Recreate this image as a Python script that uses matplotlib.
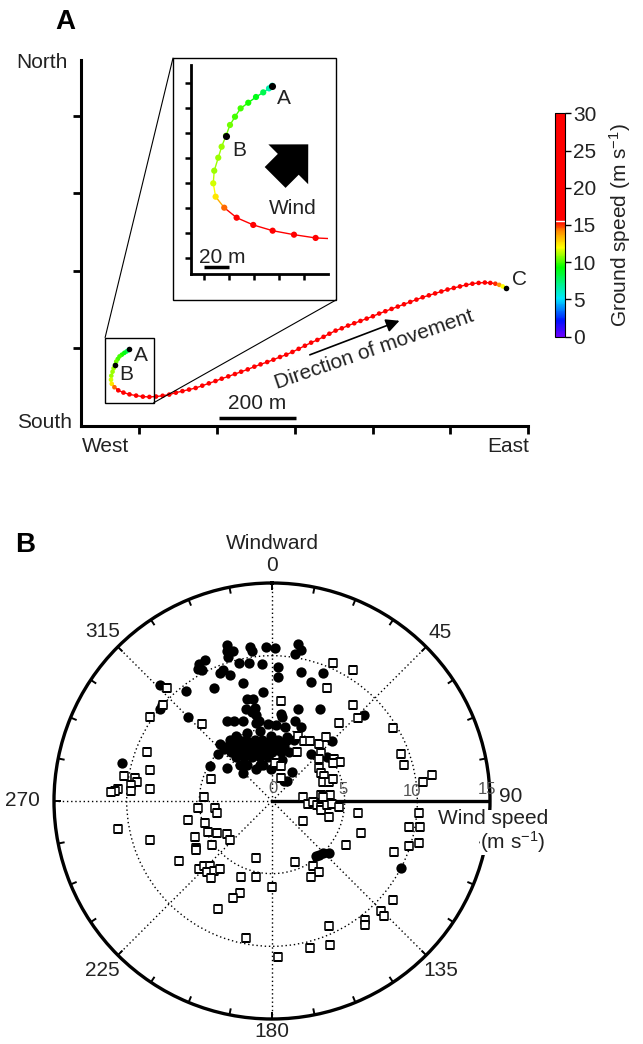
import numpy as np
import matplotlib
matplotlib.use('Agg')
import matplotlib.pyplot as plt
from matplotlib.colors import LinearSegmentedColormap, Normalize
from matplotlib.collections import LineCollection
from matplotlib.patches import Rectangle, FancyArrow, ConnectionPatch
import matplotlib.cm as cm

plt.rcParams['font.family'] = ['Liberation Sans', 'DejaVu Sans']
plt.rcParams['mathtext.default'] = 'regular'

# ---- panel A: track (m), ground speed (m/s)
track_x = [124.4, 121.8, 117.2, 111.4, 105.2, 99.1, 94.6, 90.6, 87.4, 83.9,
           81.2, 78.0, 77.2, 79.1, 86.0, 95.9, 109.2, 124.7, 141.8, 159.1,
           176, 193, 210, 227, 244, 261, 278, 295, 312, 329,
           346, 362, 379, 396, 412, 429, 446, 462, 479, 495,
           512, 528, 544, 560, 576, 592, 608, 624, 639, 655,
           671, 687, 703, 719, 735, 751, 767, 783, 799, 815,
           831, 847, 863, 879, 895, 911, 927, 943, 959, 975,
           991, 1007, 1023, 1039, 1053, 1066, 1076, 1085, 1094]
track_y = [197.6, 195.5, 192.3, 188.6, 184.0, 179.5, 172.8, 166.2, 157.6, 148.8,
           140.0, 129.6, 119.5, 108.8, 100.0, 92.0, 86.2, 81.6, 78.4, 75.8,
           75, 76, 78, 81, 86, 90, 94, 98, 104, 110,
           116, 122, 128, 134, 140, 146, 153, 159, 165, 171,
           178, 184, 191, 199, 207, 215, 222, 230, 238, 246,
           252, 259, 265, 271, 277, 283, 290, 296, 302, 308,
           314, 320, 326, 332, 337, 342, 347, 352, 356, 360,
           364, 367, 369, 370, 369, 367, 364, 360, 355]
ground_speed = [6.0, 6.5, 8.0, 9.0, 9.5, 10.0, 10.0, 10.5, 10.5, 11.0,
                11.0, 11.0, 11.5, 12.5, 14.5, 17.0, 20.0, 22.0, 23.0, 24.0,
                24, 25, 25, 26, 26, 26, 27, 27, 27, 27,
                27, 28, 28, 28, 28, 28, 28, 28, 28, 28,
                28, 28, 28, 28, 28, 28, 28, 28, 28, 28,
                28, 28, 28, 28, 28, 27, 27, 27, 27, 26,
                26, 26, 25, 25, 24, 24, 23, 22, 21, 20,
                20, 19, 18, 17, 16.5, 15.0, 14.0, 12.0, 10.0]
marked = {'A': 0, 'B': 8, 'C': 78}

# ---- panel B: wind components (m/s), east = crosswind, north = windward
flight_e = [-3.1, -3.1, -2.7, -3.0, -1.5, -1.4, -0.4, 0.2, 1.8, 2.0,
            1.6, -4.6, -5.0, -4.8, -5.1, -3.6, -3.4, -2.9, -2.3, -1.6,
            -0.7, 0.4, 0.4, 2.0, 3.5, 2.7, -2.0, -4.0, -0.6, -5.9,
            -7.7, -1.7, -1.3, -1.8, -1.4, -1.2, 1.8, 3.3, -5.8, -7.7,
            -7.6, 0.6, 0.7, 0.3, -0.3, 0.9, 1.6, 2.0, 6.3, -3.1,
            -2.6, -2.0, -1.1, -0.9, -1.1, -2.5, -0.8, 4.1, 2.7, 3.8,
            4.1, 1.4, 0.8, 1.0, 0.7, -0.1, -1.1, -0.8, -2.0, -3.1,
            -3.7, -4.3, -10.3, 3.0, 3.2, 3.5, 3.9, 8.9, -2.9, -2.3,
            -1.8, -1.2, -0.7, -0.1, 0.4, 1.0, 1.5, -3.0, -2.5, -1.9,
            -1.4, -0.8, -0.3, 0.3, 0.8, -2.8, -2.2, -1.7, -1.1, -0.6,
            0.0, 0.6, 1.2, -2.5, -1.9, -1.4, -0.8, -0.3, -2.2, -1.7,
            -0.6, 0.2, -1.7, -0.1, 1.0, -3.3, -3.6]
flight_n = [10.7, 10.3, 10.3, 9.9, 10.6, 10.3, 10.6, 10.5, 10.8, 10.4,
            10.1, 9.7, 9.4, 9.0, 9.1, 8.8, 9.0, 8.7, 9.5, 9.5,
            9.4, 9.2, 8.5, 8.9, 8.8, 8.2, 8.1, 7.8, 7.5, 7.6,
            8.0, 7.0, 7.0, 6.3, 6.1, 6.4, 6.3, 6.3, 5.8, 6.3,
            6.6, 6.0, 5.8, 5.2, 5.3, 5.1, 5.5, 5.1, 5.9, 5.5,
            5.5, 5.5, 5.9, 5.5, 5.4, 4.5, 4.8, 4.1, 3.2, 3.0,
            2.9, 2.0, 1.4, 1.4, 2.8, 2.2, 2.2, 2.5, 1.9, 2.3,
            3.2, 2.4, 2.6, -3.8, -3.7, -3.6, -3.6, -4.6, 4.2, 4.2,
            4.2, 4.2, 4.2, 4.2, 4.2, 4.2, 4.2, 3.8, 3.8, 3.8,
            3.8, 3.8, 3.8, 3.8, 3.8, 3.4, 3.4, 3.4, 3.4, 3.4,
            3.4, 3.4, 3.4, 3.0, 3.0, 3.0, 3.0, 3.0, 2.5, 2.5,
            2.5, 2.5, 4.7, 4.5, 4.4, 3.6, 3.9]

glide_e = [-7.2, -7.5, -8.4, -4.8, -8.6, -8.4, -10.2, -9.4, -9.3, -9.7,
           -9.7, -8.4, -10.6, -10.8, -11.1, -4.2, -4.7, -5.1, -3.9, -3.8,
           -10.6, -8.4, -5.8, -4.6, -4.4, -3.8, -3.1, -2.9, -4.1, -5.3,
           -5.2, -5.2, -6.4, -5.0, -4.7, -4.3, -4.5, -4.0, -3.6, -4.2,
           -1.1, -2.1, -1.1, 0.0, -2.2, -2.7, -3.7, -1.8, 0.4, 2.1,
           3.4, 4.0, 3.5, 2.5, 2.8, 3.1, 3.4, 3.4, 3.8, 4.1,
           4.6, 2.1, 3.9, 5.9, 6.1, 5.1, 10.1, 9.4, 10.2, 9.4,
           10.1, 8.4, 1.6, 2.8, 3.2, 2.7, 8.3, 7.5, 7.7, 6.4,
           6.4, 3.9, 4.0, 2.6, 4.2, 5.6, 3.8, 0.6, 5.6, 5.9,
           4.6, 8.3, 1.8, 2.2, 2.6, 3.2, 3.7, 1.7, 3.4, 3.2,
           4.3, 4.7, 4.2, 0.2, 0.6, 3.2, 3.4, 3.6, 3.5, 3.9,
           4.2, 8.9, 9.1, 11.0, 10.4, 0.6]
glide_n = [7.8, 6.6, 5.8, 5.3, 3.4, 2.1, 1.7, 1.6, 1.3, 1.1,
           0.7, 0.8, 0.8, 0.7, 0.6, 1.5, 0.3, -0.5, -0.5, -0.8,
           -1.9, -2.7, -1.3, -1.5, -2.1, -2.2, -2.3, -2.7, -3.0, -2.5,
           -3.2, -3.4, -4.1, -4.7, -4.5, -4.5, -4.9, -4.8, -4.7, -5.3,
           -3.9, -5.2, -5.2, -5.9, -6.3, -6.7, -7.4, -9.4, -10.7, 0.3,
           0.4, 0.4, 0.3, -0.2, -0.1, -0.3, -0.4, -0.6, -0.3, -0.2,
           -0.4, -1.4, -1.1, -0.8, -2.2, -3.0, -0.8, -1.8, -1.8, -3.1,
           -2.9, -3.5, -4.2, -4.5, -4.9, -5.2, -6.8, -7.6, -7.9, -8.2,
           -8.5, -8.6, -9.9, -10.1, 9.5, 9.0, 7.8, 6.9, 6.6, 5.7,
           5.4, 5.0, 4.5, 4.1, 4.1, 3.9, 4.4, 3.4, 3.3, 2.9,
           2.9, 2.7, 2.6, 2.6, 2.4, 2.3, 1.9, 1.7, 1.3, 1.3,
           1.5, 3.2, 2.5, 1.8, 1.3, 1.6]

angle_labels = [0, 45, 90, 135, 180, 225, 270, 315]
angle_label_r = [16.2, 16.35, 16.4, 16.45, 15.85, 16.5, 17.2, 16.5]
ring_labels = [0, 5, 10, 15]

txt = '#222222'
speed_cmap = LinearSegmentedColormap.from_list(
    'gs', [(0.0, '#6a00ff'), (0.07, '#0010ff'), (0.17, '#00e8ff'), (0.31, '#00ff00'),
           (0.40, '#ffff00'), (0.47, '#ff9000'), (0.515, '#ff0000'), (1.0, '#ff0000')])
norm = Normalize(0, 30)

fig = plt.figure(figsize=(6.43, 10.44), dpi=100)


def draw_track(axis, lw, s, s_black):
    x = np.array(track_x)
    y = np.array(track_y)
    v = np.array(ground_speed)
    pts = np.column_stack([x, y]).reshape(-1, 1, 2)
    segs = np.concatenate([pts[:-1], pts[1:]], axis=1)
    lc = LineCollection(segs, cmap=speed_cmap, norm=norm, linewidths=lw)
    lc.set_array((v[:-1] + v[1:]) / 2)
    axis.add_collection(lc)
    axis.scatter(x, y, c=v, cmap=speed_cmap, norm=norm, s=s, lw=0, zorder=3)
    idx = list(marked.values())
    axis.scatter(x[idx], y[idx], c='black', s=s_black, lw=0, zorder=4)


# ---------------- panel A main
ax = fig.add_axes([81 / 643, 1 - 426 / 1044, 447 / 643, 366 / 1044])
draw_track(ax, 1.0, 11, 16)
ax.set_xlim(0, 1150)
ax.set_ylim(0, 944)
ax.set_xticks([150, 350, 550, 750, 950, 1150])
ax.set_yticks([200, 400, 600, 800])
ax.set_xticklabels([])
ax.set_yticklabels([])
for sp in ['top', 'right']:
    ax.spines[sp].set_visible(False)
for sp in ['left', 'bottom']:
    ax.spines[sp].set_linewidth(2.2)
ax.tick_params(direction='out', length=6, width=2)

ax.text(154, 181, 'A', fontsize=15, color=txt, ha='center', va='center')
ax.text(116, 132, 'B', fontsize=15, color=txt, ha='center', va='center')
ax.text(1128, 377, 'C', fontsize=15, color=txt, ha='center', va='center')

ax.plot([354, 552], [21, 21], color='black', lw=2.5, solid_capstyle='butt')
ax.text(452, 59, '200 m', fontsize=15, color=txt, ha='center', va='center')

ax.annotate('', xy=(826, 274), xytext=(582, 181),
            arrowprops=dict(arrowstyle='-|>', color='black', lw=1.2, mutation_scale=20))
ax.text(755, 198, 'Direction of movement', fontsize=15, color=txt, rotation=19,
        ha='center', va='center', rotation_mode='anchor')

ax.add_patch(Rectangle((62, 60), 125, 168, fill=False, lw=1, ec='black', zorder=5))

fig.text(68 / 643, 1 - 62 / 1044, 'North', fontsize=15, color=txt, ha='right', va='center')
fig.text(72 / 643, 1 - 422 / 1044, 'South', fontsize=15, color=txt, ha='right', va='center')
fig.text(106 / 643, 1 - 447 / 1044, 'West', fontsize=15, color=txt, ha='center', va='center')
fig.text(508 / 643, 1 - 447 / 1044, 'East', fontsize=15, color=txt, ha='center', va='center')
fig.text(65 / 643, 1 - 22 / 1044, 'A', fontsize=20, fontweight='bold', ha='center', va='center')
fig.text(25 / 643, 1 - 545 / 1044, 'B', fontsize=20, fontweight='bold', ha='center', va='center')

# ---------------- inset
frame_l, frame_b, frame_r, frame_t = 173 / 643, 1 - 300 / 1044, 336 / 643, 1 - 58 / 1044
fig.add_artist(Rectangle((frame_l, frame_b), frame_r - frame_l, frame_t - frame_b,
                         transform=fig.transFigure, fill=False, lw=1, ec='black'))
fig.add_artist(ConnectionPatch(xyA=(62, 228), coordsA=ax.transData,
                               xyB=(frame_l, frame_t), coordsB=fig.transFigure, lw=0.8))
fig.add_artist(ConnectionPatch(xyA=(187, 60), coordsA=ax.transData,
                               xyB=(frame_r, frame_b), coordsB=fig.transFigure, lw=0.8))

axi = fig.add_axes([191 / 643, 1 - 274.3 / 1044, 137 / 643, 209.3 / 1044])
draw_track(axi, 1.0, 20, 26)
axi.set_xlim(59.4, 169)
axi.set_ylim(46.7, 214.2)
axi.set_xticks([70, 90, 110, 130, 150])
axi.set_yticks([60, 80, 100, 120, 140, 160, 180, 200])
axi.set_xticklabels([])
axi.set_yticklabels([])
for sp in ['top', 'right']:
    axi.spines[sp].set_visible(False)
for sp in ['left', 'bottom']:
    axi.spines[sp].set_linewidth(2)
axi.tick_params(direction='out', length=4, width=1.8)
axi.text(133.8, 187.5, 'A', fontsize=15, color=txt, ha='center', va='center')
axi.text(98, 146, 'B', fontsize=15, color=txt, ha='center', va='center')
axi.add_patch(FancyArrow(126.7, 124.2, 26.5, 26.5, width=23.6, head_width=45,
                         head_length=22.6, length_includes_head=True, color='black', lw=0))
axi.text(141, 99.5, 'Wind', fontsize=15, color=txt, ha='center', va='center')
axi.plot([70, 90], [52.3, 52.3], color='black', lw=2.5, solid_capstyle='butt')
axi.text(84.2, 59.8, '20 m', fontsize=15, color=txt, ha='center', va='center')

# ---------------- colorbar
cax = fig.add_axes([555 / 643, 1 - 336.7 / 1044, 9.5 / 643, 223.4 / 1044])
cb = fig.colorbar(cm.ScalarMappable(norm=norm, cmap=speed_cmap), cax=cax)
cb.set_ticks([0, 5, 10, 15, 20, 25, 30])
cb.outline.set_linewidth(0.8)
cax.tick_params(length=4, width=1, labelsize=15, labelcolor=txt, pad=2)
cax.axhline(15.5, color='white', lw=1)
cb.set_label('Ground speed (m s$^{-1}$)', fontsize=15, color=txt, labelpad=8)

# ---------------- panel B polar
axp = fig.add_axes([(272 - 218) / 643, 1 - (801 + 218) / 1044, 436 / 643, 436 / 1044],
                   projection='polar')
axp.set_theta_zero_location('N')
axp.set_theta_direction(-1)
axp.set_ylim(0, 15)
axp.set_rticks([5, 10])
axp.set_yticklabels([])
axp.set_xticks(np.deg2rad(angle_labels))
axp.set_xticklabels([''] * len(angle_labels))
axp.grid(True, color='black', linestyle=(0, (1, 2)), lw=1)
axp.tick_params(axis='x', length=0)
axp.spines['polar'].set_linewidth(2.4)
axp.plot([np.pi / 2, np.pi / 2], [0, 15], color='black', lw=2.4, zorder=2)
# short inward tick marks round the rim
for t in np.deg2rad(np.arange(0, 360, 11.25)):
    axp.plot([t, t], [14.55, 15], color='black', lw=1.4, zorder=2,
             solid_capstyle='butt', clip_on=False)

fe, fn = np.array(flight_e), np.array(flight_n)
ge, gn = np.array(glide_e), np.array(glide_n)
axp.scatter(np.arctan2(fe, fn), np.hypot(fe, fn), s=55, c='black', lw=0, zorder=3)
axp.scatter(np.arctan2(ge, gn), np.hypot(ge, gn), s=30, marker='s', facecolor='white',
            edgecolor='black', lw=1.1, zorder=4)

for a, r in zip(angle_labels, angle_label_r):
    if a == 90:
        axp.annotate(str(a), xy=(np.deg2rad(a), r), xytext=(0, 3), textcoords='offset points',
                     fontsize=15, color=txt, ha='center', va='center', annotation_clip=False)
    else:
        axp.text(np.deg2rad(a), r, str(a), fontsize=15, color=txt, ha='center', va='center',
                 clip_on=False)
axp.text(0, 17.75, 'Windward', fontsize=15, color=txt, ha='center', va='center', clip_on=False)
ring_offsets = [(0.5, 9), (-1, 8), (-4, 7), (-2.4, 8)]
for v, off in zip(ring_labels, ring_offsets):
    axp.annotate(str(v), xy=(np.pi / 2, v), xytext=off, textcoords='offset points',
                 fontsize=12, color='#555555', ha='center', va='center')

fig.text(548 / 643, 1 - 819 / 1044, 'Wind speed', fontsize=15, color=txt, ha='right',
         va='center', bbox=dict(fc='white', ec='none', pad=0))
fig.text(546 / 643, 1 - 842 / 1044, '(m s$^{-1}$)', fontsize=15, color=txt, ha='right',
         va='center', bbox=dict(fc='white', ec='none', pad=0))

fig.savefig('out.png', dpi=100)
